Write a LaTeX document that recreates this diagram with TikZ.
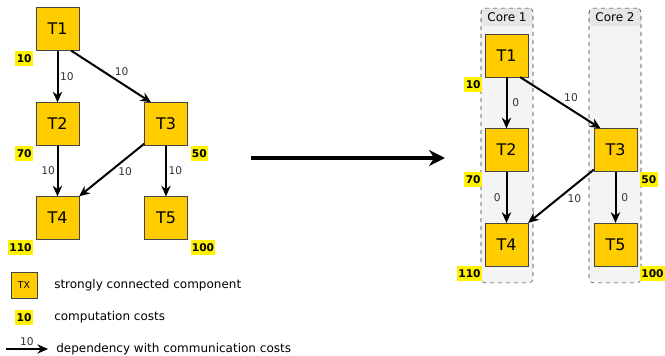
\documentclass[tikz,border=0pt]{standalone}
\usepackage{fontspec}
\setmainfont{DejaVu Sans}
\usetikzlibrary{arrows.meta,positioning}
\definecolor{taskfill}{RGB}{255,204,0}
\definecolor{taskline}{RGB}{68,68,68}
\definecolor{corefill}{RGB}{244,244,244}
\definecolor{corehead}{RGB}{230,230,230}
\definecolor{commtext}{RGB}{51,51,51}
\begin{document}
\begin{tikzpicture}[x=0.75pt, y=-0.75pt, font=\fontsize{9}{11}\selectfont,
  task/.style={draw=taskline, fill=taskfill, minimum size=32pt, inner sep=0pt, font=\fontsize{12}{14}\selectfont},
  cost/.style={fill=yellow, inner sep=1pt, minimum height=11pt, font=\fontsize{8}{9}\selectfont\bfseries},
  dep/.style={-{Stealth[length=8pt, width=7pt]}, line width=1.5pt},
  comm/.style={inner sep=1pt, text=commtext, font=\fontsize{8}{9}\selectfont},
  legtxt/.style={anchor=west, inner sep=0pt},
  core/.style={draw=black!80, dashed, rounded corners=3pt, fill=corefill,
    minimum width=39pt, minimum height=206pt,
    path picture={\fill[corehead] (path picture bounding box.north west) rectangle ([yshift=-13.5pt]path picture bounding box.north east);}}]
  \useasboundingbox (0,0) rectangle (665,356);
  % task graph
  \node[task] (t1) at (57.5,29) {T1};
  \node[task] (t2) at (57.5,124) {T2};
  \node[task] (t3) at (166,124) {T3};
  \node[task] (t4) at (57.5,218) {T4};
  \node[task] (t5) at (166,218) {T5};
  \node[cost, anchor=north east] (w1) at ([xshift=-2pt]t1.south west) {10};
  \node[cost, anchor=north east] (w2) at ([xshift=-2pt]t2.south west) {70};
  \node[cost, anchor=north west] (w3) at ([xshift=2pt]t3.south east) {50};
  \node[cost, anchor=north east] (w4) at ([xshift=-2pt]t4.south west) {110};
  \node[cost, anchor=north west] (w5) at ([xshift=2pt]t5.south east) {100};
  \draw[dep] (t1) -- (t2) node[comm, midway, xshift=7pt] {10};
  \draw[dep] ([xshift=-6pt]t1.south east) -- ([xshift=5pt]t3.north west) node[comm, midway, xshift=8pt, yshift=4pt] {10};
  \draw[dep] (t2) -- (t4) node[comm, midway, xshift=-7pt] {10};
  \draw[dep] ([yshift=1.5pt]t3.south west) -- (t4.north east) node[comm, midway, xshift=10pt, yshift=-1.5pt] {10};
  \draw[dep] (t3) -- (t5) node[comm, midway, xshift=7pt] {10};
  % mapping arrow
  \coordinate (mapfrom) at (251,158);
  \coordinate (mapto) at (445,158);
  \draw[line width=3.6pt, -{Stealth[length=12pt, width=12pt]}] (mapfrom) -- (mapto);
  % cores
  \node[core] (core1) at (507,145.5) {};
  \node[core] (core2) at (615,145.5) {};
  \node (core1lbl) at ([yshift=-6.75pt]core1.north) {Core 1};
  \node (core2lbl) at ([yshift=-6.75pt]core2.north) {Core 2};
  % mapped task graph
  \node[task] (m1) at (506.5,55.5) {T1};
  \node[task] (m2) at (506.5,150) {T2};
  \node[task] (m3) at (615.5,150) {T3};
  \node[task] (m4) at (506.5,244.5) {T4};
  \node[task] (m5) at (615.5,244.5) {T5};
  \node[cost, anchor=north east] (v1) at ([xshift=-2pt]m1.south west) {10};
  \node[cost, anchor=north east] (v2) at ([xshift=-2pt]m2.south west) {70};
  \node[cost, anchor=north west] (v3) at ([xshift=2pt]m3.south east) {50};
  \node[cost, anchor=north east] (v4) at ([xshift=-2pt]m4.south west) {110};
  \node[cost, anchor=north west] (v5) at ([xshift=2pt]m5.south east) {100};
  \draw[dep] (m1) -- (m2) node[comm, midway, xshift=7pt] {0};
  \draw[dep] ([xshift=-6pt]m1.south east) -- ([xshift=5pt]m3.north west) node[comm, midway, xshift=8pt, yshift=4pt] {10};
  \draw[dep] (m2) -- (m4) node[comm, midway, xshift=-7pt] {0};
  \draw[dep] ([yshift=1.5pt]m3.south west) -- (m4.north east) node[comm, midway, xshift=10pt, yshift=-1.5pt] {10};
  \draw[dep] (m3) -- (m5) node[comm, midway, xshift=7pt] {0};
  % legend
  \node[task, minimum size=19.5pt, font=\fontsize{7}{8}\selectfont] (ltask) at (24,285) {TX};
  \node[legtxt] (ltasktxt) at (54,285) {strongly connected component};
  \node[cost] (lcost) at (24,317.5) {10};
  \node[legtxt] (lcosttxt) at (54,317.5) {computation costs};
  \coordinate (ldepfrom) at (6,349);
  \coordinate (ldepto) at (48,349);
  \draw[dep, line width=1pt] (ldepfrom) -- (ldepto) node[comm, midway, above=1pt] {10};
  \node[legtxt] (ldeptxt) at (56,349) {dependency with communication costs};
\end{tikzpicture}
\end{document}
